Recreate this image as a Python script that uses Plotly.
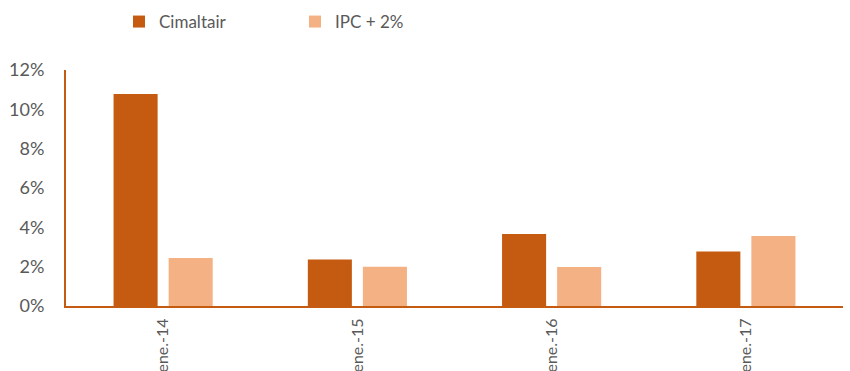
import plotly.graph_objects as go

categories = ["ene.-14", "ene.-15", "ene.-16", "ene.-17"]
cimaltair = [10.78, 2.36, 3.66, 2.77]
ipc_plus2 = [2.44, 2.00, 1.98, 3.56]
y_ticks = [0, 2, 4, 6, 8, 10, 12]
y_labels = [f"{v}%" for v in y_ticks]

font_family = "Lato, 'Open Sans', sans-serif"
grey = "#595959"
axis_color = "#C55A11"

fig = go.Figure()
fig.add_trace(go.Bar(name="Cimaltair", x=categories, y=cimaltair,
                     marker=dict(color="#C55A11", line=dict(width=0))))
fig.add_trace(go.Bar(name="IPC + 2%", x=categories, y=ipc_plus2,
                     marker=dict(color="#F4B183", line=dict(width=0))))

fig.update_layout(
    width=850, height=371,
    margin=dict(l=66, r=7, t=70, b=65, autoexpand=False),
    paper_bgcolor="white", plot_bgcolor="white",
    barmode="group", bargap=0.433, bargroupgap=0.2,
    font=dict(family=font_family, color=grey, size=17),
    showlegend=True,
    legend=dict(orientation="h", xref="container", yref="container",
                x=119/850, y=1 - 4/371, xanchor="left", yanchor="top",
                font=dict(size=17, color=grey), itemwidth=30,
                traceorder="normal", entrywidth=131),
)
fig.update_xaxes(showline=True, linecolor=axis_color, linewidth=2,
                 showgrid=False, ticks="", tickangle=-90, automargin=False,
                 ticklabelstandoff=4,
                 tickfont=dict(size=16, color=grey))
fig.update_yaxes(range=[0, 12], tickvals=y_ticks, ticktext=y_labels,
                 showline=True, linecolor=axis_color, linewidth=2,
                 showgrid=False, zeroline=False, ticks="", automargin=False,
                 ticklabelstandoff=16,
                 tickfont=dict(size=18, color=grey))

fig.write_html("out.html")
